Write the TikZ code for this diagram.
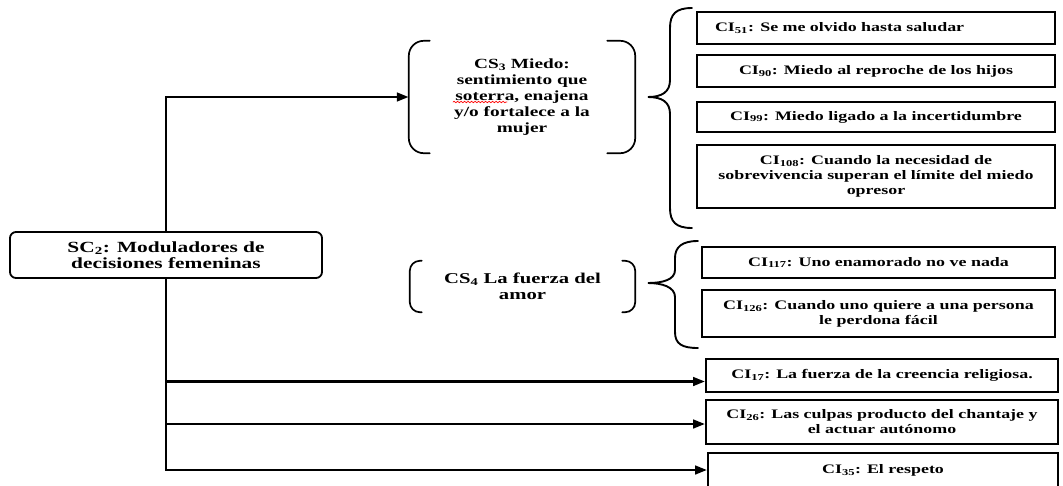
\documentclass[tikz,border=0pt]{standalone}
\usepackage{fontspec}
\setmainfont{Liberation Serif}
\newfontfamily\widefont[FakeStretch=1.38]{Liberation Serif}
\usetikzlibrary{arrows.meta,decorations.pathmorphing}

\begin{document}
\begin{tikzpicture}[x=1pt,y=-1pt,line cap=round,
  >={Triangle[length=12pt,width=8.5pt]},
  box/.style={draw,line width=1.8pt,inner sep=0pt,align=center,
    font=\widefont\bfseries\fontsize{13}{15}\selectfont},
  group/.style={inner sep=0pt,align=center,
    font=\widefont\bfseries\fontsize{14}{16}\selectfont},
  paren/.style={line width=1.7pt,rounded corners=15pt},
  brace/.style={line width=1.9pt},
  link/.style={->,line width=2.8pt}]
\useasboundingbox (0,0) rectangle (1063,485);
\clip (0,0) rectangle (1063,485);

\node[box,rounded corners=6pt,minimum width=312pt,minimum height=46pt,
  font=\widefont\bfseries\fontsize{15.5}{16}\selectfont] (sc2) at (166,255)
  {SC\textsubscript{2}: Moduladores de\\decisiones femeninas};

% subcategorias
\node[group,minimum width=226pt,minimum height=112pt] (cs3) at (522,97)
  {CS\textsubscript{3} Miedo:\\sentimiento que\\soterra, enajena\\y/o fortalece a la\\mujer};
\draw[paren] ([xshift=21pt]cs3.north west) -- (cs3.north west) -- (cs3.south west) -- ++(21,0);
\draw[paren] ([xshift=-28pt]cs3.north east) -- (cs3.north east) -- (cs3.south east) -- ++(-28,0);
\draw[red,line width=0.7pt,decorate,decoration={snake,amplitude=0.7pt,segment length=3.5pt}]
  (453,102) -- (507,102);

\node[group,minimum width=225pt,minimum height=51pt,
  font=\widefont\bfseries\fontsize{15}{16}\selectfont] (cs4) at (522.5,286.5)
  {CS\textsubscript{4} La fuerza del\\amor};
\draw[paren,rounded corners=10pt] ([xshift=12pt]cs4.north west) -- (cs4.north west) -- (cs4.south west) -- ++(12,0);
\draw[paren,rounded corners=10pt] ([xshift=-13pt]cs4.north east) -- (cs4.north east) -- (cs4.south east) -- ++(-13,0);

% llaves
\draw[brace] (692,8) .. controls (676,8) and (670,14) .. (670,28) -- (670,80)
  .. controls (670,92) and (662,97) .. (648,97)
  .. controls (662,97) and (670,102) .. (670,114) -- (670,208)
  .. controls (670,222) and (676,228) .. (692,228);
\draw[brace] (698,241) .. controls (682,241) and (675,247) .. (675,258) -- (675,270)
  .. controls (675,280) and (662,283) .. (648,283)
  .. controls (662,283) and (675,287) .. (675,297) -- (675,332)
  .. controls (675,344) and (682,348) .. (698,348);

% codigos
\node[box,minimum width=358pt,minimum height=32pt,text width=322pt,align=left] (ci51) at (876,28)
  {CI\textsubscript{51}: Se me olvido hasta saludar};
\node[box,minimum width=358pt,minimum height=32pt] (ci90) at (876,71)
  {CI\textsubscript{90}: Miedo al reproche  de los hijos};
\node[box,minimum width=358pt,minimum height=30pt] (ci99) at (876,117)
  {CI\textsubscript{99}: Miedo ligado a la incertidumbre};
\node[box,minimum width=358pt,minimum height=63pt] (ci108) at (876,176.5)
  {CI\textsubscript{108}: Cuando la necesidad de\\sobrevivencia  superan el límite del miedo\\opresor};
\node[box,minimum width=353pt,minimum height=31pt] (ci117) at (878.5,262.5)
  {CI\textsubscript{117}: Uno enamorado no ve nada};
\node[box,minimum width=353pt,minimum height=47pt] (ci126) at (878.5,313.5)
  {CI\textsubscript{126}: Cuando uno quiere a una persona\\le perdona fácil};
\node[box,minimum width=352pt,minimum height=33pt] (ci17) at (882,375.5)
  {CI\textsubscript{17}: La fuerza de la creencia  religiosa.};
\node[box,minimum width=352pt,minimum height=44pt] (ci26) at (882,422)
  {CI\textsubscript{26}: Las culpas producto del chantaje y\\el actuar autónomo};
\node[box,minimum width=350pt,minimum height=34pt] (ci35) at (883,470)
  {CI\textsubscript{35}: El respeto};

\draw[link] (sc2.north) |- (cs3.west);
\draw[link] (sc2.south) |- ([yshift=-6pt]ci17.west);
\draw[link] (sc2.south) |- ([yshift=-2pt]ci26.west);
\draw[link] (sc2.south) |- (ci35.west);
\end{tikzpicture}
\end{document}
